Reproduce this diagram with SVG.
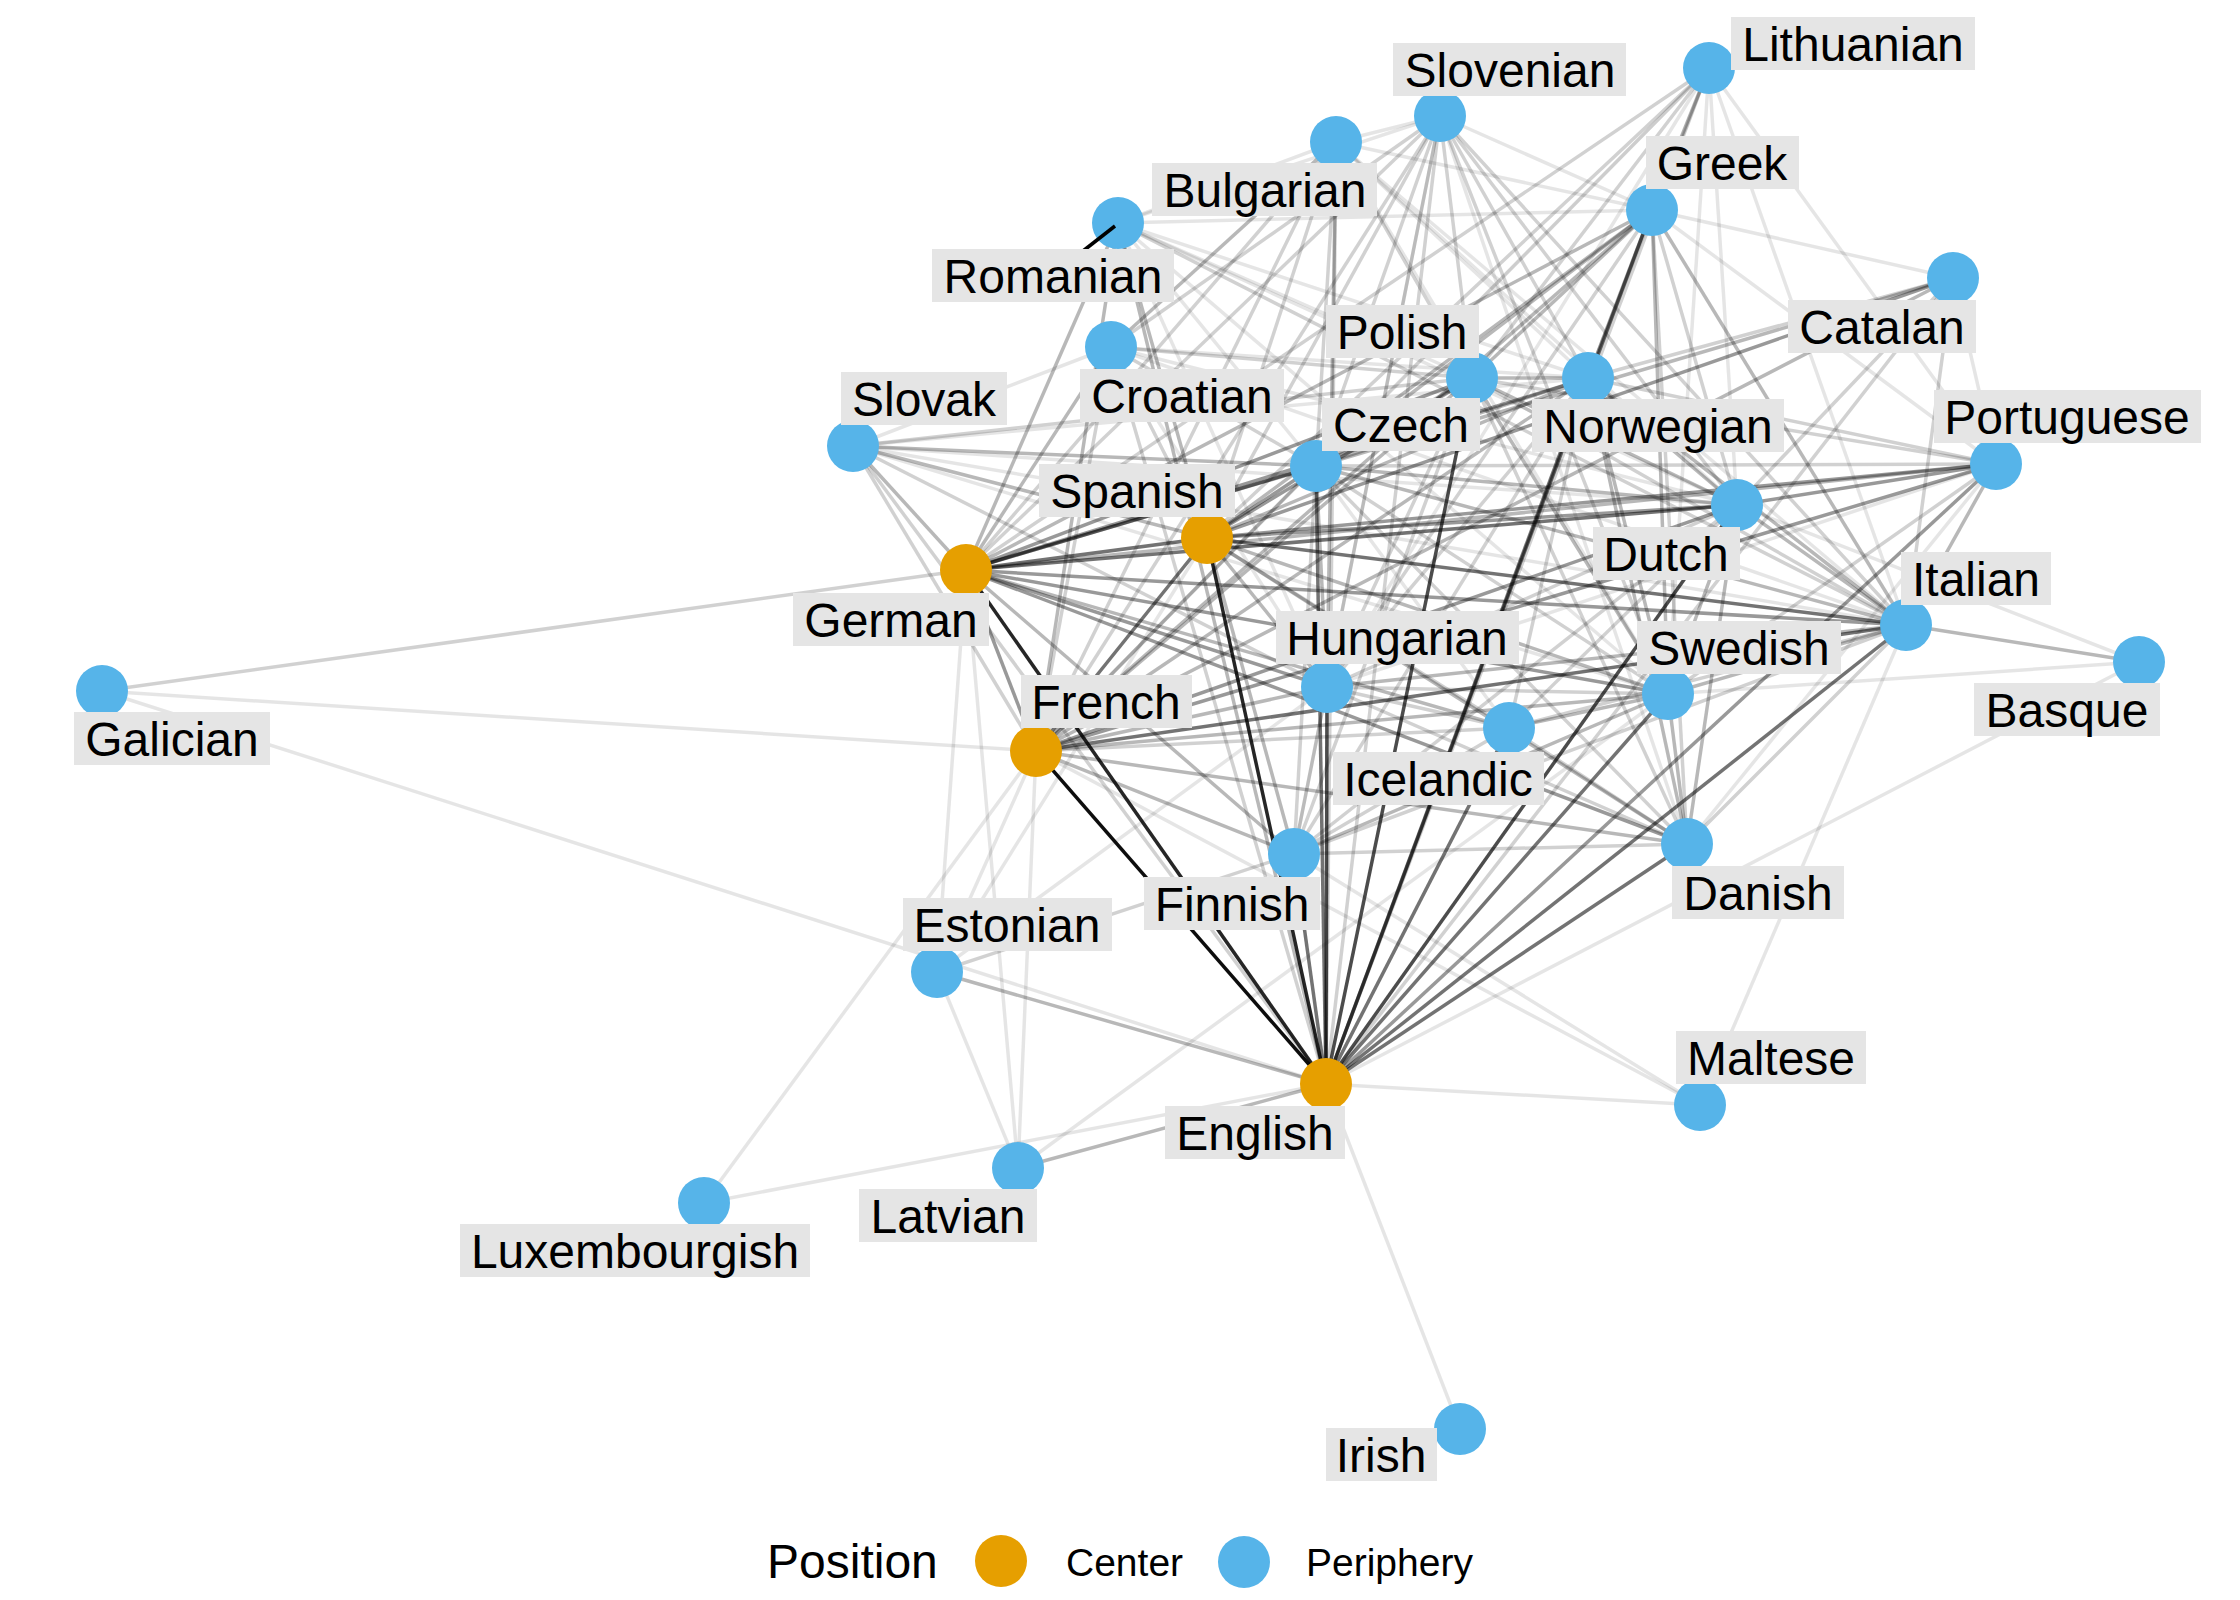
<svg xmlns="http://www.w3.org/2000/svg" width="2240" height="1600" viewBox="0 0 2240 1600">
<style>
#edges line{stroke:#000;stroke-width:3.5;fill:none}
.w1 line{stroke-opacity:.1}.w2 line{stroke-opacity:.18}.w3 line{stroke-opacity:.28}.w4 line{stroke-opacity:.4}
.w5 line{stroke-opacity:.55}.w6 line{stroke-opacity:.7}.w7 line{stroke-opacity:.85}.w8 line{stroke-opacity:.95}
.c{fill:#E69F00}.p{fill:#56B4E9}
.lb{fill:#E5E5E5}
.t{font-family:"Liberation Sans",Arial,Helvetica,sans-serif;font-size:48px;fill:#000;text-anchor:middle}
.lg{font-family:"Liberation Sans",Arial,Helvetica,sans-serif;fill:#000}
</style>
<rect width="2240" height="1600" fill="#fff"/>
<g id="edges">
<g class="w1">
<line x1="1326" y1="1084" x2="1700" y2="1105"/><line x1="1326" y1="1084" x2="1460" y2="1429"/><line x1="1326" y1="1084" x2="102" y2="691"/><line x1="1326" y1="1084" x2="704" y2="1203"/><line x1="1326" y1="1084" x2="2139" y2="662"/>
<line x1="966" y1="570" x2="937" y2="972"/><line x1="966" y1="570" x2="1018" y2="1168"/><line x1="1036" y1="751" x2="937" y2="972"/><line x1="1036" y1="751" x2="1018" y2="1168"/><line x1="1036" y1="751" x2="704" y2="1203"/><line x1="1036" y1="751" x2="102" y2="691"/><line x1="1036" y1="751" x2="1700" y2="1105"/><line x1="1036" y1="751" x2="1709" y2="68"/>
<line x1="1207" y1="538" x2="937" y2="972"/><line x1="853" y1="446" x2="1906" y2="625"/><line x1="853" y1="446" x2="1737" y2="505"/><line x1="853" y1="446" x2="1668" y2="694"/><line x1="853" y1="446" x2="1588" y2="378"/><line x1="853" y1="446" x2="1111" y2="347"/>
<line x1="1111" y1="347" x2="1906" y2="625"/><line x1="1111" y1="347" x2="1327" y2="687"/><line x1="1111" y1="347" x2="1588" y2="378"/><line x1="1111" y1="347" x2="1737" y2="505"/>
<line x1="1118" y1="223" x2="1336" y2="142"/><line x1="1118" y1="223" x2="1440" y2="116"/><line x1="1118" y1="223" x2="1472" y2="378"/><line x1="1118" y1="223" x2="1316" y2="466"/><line x1="1118" y1="223" x2="1327" y2="687"/><line x1="1118" y1="223" x2="1588" y2="378"/><line x1="1118" y1="223" x2="1737" y2="505"/><line x1="1118" y1="223" x2="1668" y2="694"/><line x1="1118" y1="223" x2="1652" y2="210"/>
<line x1="1336" y1="142" x2="1440" y2="116"/><line x1="1336" y1="142" x2="1652" y2="210"/><line x1="1336" y1="142" x2="1906" y2="625"/><line x1="1336" y1="142" x2="1588" y2="378"/><line x1="1336" y1="142" x2="1737" y2="505"/><line x1="1336" y1="142" x2="1668" y2="694"/>
<line x1="1440" y1="116" x2="1687" y2="844"/><line x1="1440" y1="116" x2="1652" y2="210"/><line x1="1440" y1="116" x2="1294" y2="854"/>
<line x1="1709" y1="68" x2="1316" y2="466"/><line x1="1709" y1="68" x2="1588" y2="378"/><line x1="1709" y1="68" x2="1906" y2="625"/><line x1="1709" y1="68" x2="1327" y2="687"/><line x1="1709" y1="68" x2="1737" y2="505"/><line x1="1709" y1="68" x2="1668" y2="694"/><line x1="1709" y1="68" x2="1996" y2="464"/>
<line x1="1652" y1="210" x2="1953" y2="278"/><line x1="1652" y1="210" x2="1996" y2="464"/><line x1="1316" y1="466" x2="1509" y2="728"/><line x1="1737" y1="505" x2="2139" y2="662"/><line x1="1668" y1="694" x2="1018" y2="1168"/><line x1="1668" y1="694" x2="2139" y2="662"/><line x1="1906" y1="625" x2="1700" y2="1105"/>
<line x1="1327" y1="687" x2="1996" y2="464"/><line x1="1327" y1="687" x2="937" y2="972"/><line x1="1294" y1="854" x2="1700" y2="1105"/><line x1="1687" y1="844" x2="1996" y2="464"/><line x1="937" y1="972" x2="1018" y2="1168"/><line x1="1953" y1="278" x2="1996" y2="464"/>
</g>
<g class="w2">
<line x1="1326" y1="1084" x2="1953" y2="278"/><line x1="1326" y1="1084" x2="853" y2="446"/><line x1="1326" y1="1084" x2="1111" y2="347"/><line x1="1326" y1="1084" x2="1336" y2="142"/><line x1="1326" y1="1084" x2="1440" y2="116"/><line x1="1326" y1="1084" x2="1709" y2="68"/>
<line x1="966" y1="570" x2="1336" y2="142"/><line x1="966" y1="570" x2="1440" y2="116"/><line x1="966" y1="570" x2="102" y2="691"/><line x1="966" y1="570" x2="1709" y2="68"/>
<line x1="1036" y1="751" x2="1509" y2="728"/><line x1="1036" y1="751" x2="1111" y2="347"/><line x1="1036" y1="751" x2="1336" y2="142"/><line x1="1036" y1="751" x2="853" y2="446"/><line x1="1036" y1="751" x2="1440" y2="116"/>
<line x1="1207" y1="538" x2="1336" y2="142"/><line x1="1207" y1="538" x2="1440" y2="116"/><line x1="1207" y1="538" x2="1111" y2="347"/><line x1="1207" y1="538" x2="1709" y2="68"/><line x1="1207" y1="538" x2="1509" y2="728"/>
<line x1="853" y1="446" x2="1472" y2="378"/><line x1="853" y1="446" x2="1327" y2="687"/><line x1="1111" y1="347" x2="1440" y2="116"/><line x1="1111" y1="347" x2="1472" y2="378"/><line x1="1111" y1="347" x2="1316" y2="466"/><line x1="1118" y1="223" x2="1906" y2="625"/>
<line x1="1336" y1="142" x2="1472" y2="378"/><line x1="1336" y1="142" x2="1316" y2="466"/>
<line x1="1440" y1="116" x2="1472" y2="378"/><line x1="1440" y1="116" x2="1316" y2="466"/><line x1="1440" y1="116" x2="1327" y2="687"/><line x1="1440" y1="116" x2="1588" y2="378"/><line x1="1440" y1="116" x2="1906" y2="625"/><line x1="1440" y1="116" x2="1737" y2="505"/><line x1="1440" y1="116" x2="1668" y2="694"/>
<line x1="1709" y1="68" x2="1472" y2="378"/><line x1="1652" y1="210" x2="1737" y2="505"/><line x1="1652" y1="210" x2="1687" y2="844"/><line x1="1652" y1="210" x2="1327" y2="687"/>
<line x1="1472" y1="378" x2="1327" y2="687"/><line x1="1472" y1="378" x2="1906" y2="625"/><line x1="1472" y1="378" x2="1687" y2="844"/><line x1="1472" y1="378" x2="1294" y2="854"/><line x1="1472" y1="378" x2="1996" y2="464"/>
<line x1="1316" y1="466" x2="1668" y2="694"/><line x1="1316" y1="466" x2="1687" y2="844"/><line x1="1316" y1="466" x2="1294" y2="854"/><line x1="1316" y1="466" x2="1996" y2="464"/>
<line x1="1588" y1="378" x2="1327" y2="687"/><line x1="1588" y1="378" x2="1509" y2="728"/><line x1="1588" y1="378" x2="1294" y2="854"/><line x1="1588" y1="378" x2="1996" y2="464"/><line x1="1588" y1="378" x2="1953" y2="278"/>
<line x1="1737" y1="505" x2="1327" y2="687"/><line x1="1737" y1="505" x2="1509" y2="728"/><line x1="1737" y1="505" x2="1294" y2="854"/><line x1="1737" y1="505" x2="1953" y2="278"/>
<line x1="1668" y1="694" x2="1327" y2="687"/><line x1="1668" y1="694" x2="1996" y2="464"/>
<line x1="1906" y1="625" x2="1687" y2="844"/><line x1="1906" y1="625" x2="1953" y2="278"/><line x1="1906" y1="625" x2="1509" y2="728"/><line x1="1906" y1="625" x2="1294" y2="854"/>
<line x1="1327" y1="687" x2="1509" y2="728"/><line x1="1327" y1="687" x2="1294" y2="854"/><line x1="1327" y1="687" x2="1687" y2="844"/><line x1="1509" y1="728" x2="1687" y2="844"/><line x1="1509" y1="728" x2="1294" y2="854"/><line x1="1294" y1="854" x2="1687" y2="844"/><line x1="1294" y1="854" x2="937" y2="972"/>
</g>
<g class="w3">
<line x1="1326" y1="1084" x2="937" y2="972"/><line x1="1326" y1="1084" x2="1018" y2="1168"/><line x1="1326" y1="1084" x2="1118" y2="223"/>
<line x1="966" y1="570" x2="853" y2="446"/><line x1="966" y1="570" x2="1111" y2="347"/><line x1="966" y1="570" x2="1118" y2="223"/><line x1="966" y1="570" x2="1996" y2="464"/><line x1="966" y1="570" x2="1652" y2="210"/><line x1="966" y1="570" x2="1953" y2="278"/><line x1="966" y1="570" x2="1509" y2="728"/><line x1="966" y1="570" x2="1294" y2="854"/>
<line x1="1036" y1="751" x2="1953" y2="278"/><line x1="1036" y1="751" x2="1118" y2="223"/><line x1="1036" y1="751" x2="1327" y2="687"/><line x1="1036" y1="751" x2="1316" y2="466"/><line x1="1036" y1="751" x2="1472" y2="378"/><line x1="1036" y1="751" x2="1668" y2="694"/><line x1="1036" y1="751" x2="1687" y2="844"/><line x1="1036" y1="751" x2="1588" y2="378"/><line x1="1036" y1="751" x2="1652" y2="210"/><line x1="1036" y1="751" x2="1294" y2="854"/>
<line x1="1207" y1="538" x2="1652" y2="210"/><line x1="1207" y1="538" x2="1668" y2="694"/><line x1="1207" y1="538" x2="1327" y2="687"/><line x1="1207" y1="538" x2="1588" y2="378"/><line x1="1207" y1="538" x2="1687" y2="844"/><line x1="1207" y1="538" x2="1294" y2="854"/><line x1="1207" y1="538" x2="1118" y2="223"/><line x1="1207" y1="538" x2="853" y2="446"/>
<line x1="853" y1="446" x2="1316" y2="466"/><line x1="1111" y1="347" x2="1336" y2="142"/><line x1="1336" y1="142" x2="1327" y2="687"/><line x1="1709" y1="68" x2="1652" y2="210"/>
<line x1="1652" y1="210" x2="1472" y2="378"/><line x1="1652" y1="210" x2="1316" y2="466"/><line x1="1652" y1="210" x2="1668" y2="694"/><line x1="1652" y1="210" x2="1906" y2="625"/>
<line x1="1472" y1="378" x2="1316" y2="466"/><line x1="1472" y1="378" x2="1588" y2="378"/><line x1="1472" y1="378" x2="1737" y2="505"/><line x1="1472" y1="378" x2="1668" y2="694"/>
<line x1="1316" y1="466" x2="1588" y2="378"/><line x1="1316" y1="466" x2="1327" y2="687"/><line x1="1316" y1="466" x2="1737" y2="505"/><line x1="1316" y1="466" x2="1906" y2="625"/>
<line x1="1588" y1="378" x2="1737" y2="505"/><line x1="1588" y1="378" x2="1668" y2="694"/><line x1="1588" y1="378" x2="1687" y2="844"/><line x1="1588" y1="378" x2="1906" y2="625"/>
<line x1="1737" y1="505" x2="1668" y2="694"/><line x1="1737" y1="505" x2="1687" y2="844"/><line x1="1737" y1="505" x2="1906" y2="625"/>
<line x1="1668" y1="694" x2="1687" y2="844"/><line x1="1668" y1="694" x2="1906" y2="625"/><line x1="1668" y1="694" x2="1509" y2="728"/><line x1="1668" y1="694" x2="1294" y2="854"/>
<line x1="1906" y1="625" x2="1327" y2="687"/><line x1="1906" y1="625" x2="1996" y2="464"/><line x1="1906" y1="625" x2="2139" y2="662"/>
</g>
<g class="w4">
<line x1="1326" y1="1084" x2="1996" y2="464"/><line x1="966" y1="570" x2="1036" y2="751"/><line x1="966" y1="570" x2="1472" y2="378"/><line x1="966" y1="570" x2="1327" y2="687"/><line x1="966" y1="570" x2="1588" y2="378"/><line x1="966" y1="570" x2="1668" y2="694"/><line x1="966" y1="570" x2="1687" y2="844"/><line x1="966" y1="570" x2="1906" y2="625"/>
<line x1="1036" y1="751" x2="1996" y2="464"/><line x1="1036" y1="751" x2="1737" y2="505"/>
<line x1="1207" y1="538" x2="1996" y2="464"/><line x1="1207" y1="538" x2="1953" y2="278"/><line x1="1207" y1="538" x2="1737" y2="505"/><line x1="1207" y1="538" x2="1472" y2="378"/><line x1="1207" y1="538" x2="1316" y2="466"/>
<line x1="1737" y1="505" x2="1996" y2="464"/><line x1="1652" y1="210" x2="1588" y2="378"/>
</g>
<g class="w5">
<line x1="1326" y1="1084" x2="1316" y2="466"/><line x1="1326" y1="1084" x2="1588" y2="378"/><line x1="1326" y1="1084" x2="1668" y2="694"/><line x1="1326" y1="1084" x2="1906" y2="625"/><line x1="1326" y1="1084" x2="1652" y2="210"/><line x1="1326" y1="1084" x2="1509" y2="728"/><line x1="1326" y1="1084" x2="1687" y2="844"/><line x1="1326" y1="1084" x2="1294" y2="854"/>
<line x1="966" y1="570" x2="1207" y2="538"/><line x1="1036" y1="751" x2="1207" y2="538"/><line x1="966" y1="570" x2="1316" y2="466"/><line x1="966" y1="570" x2="1737" y2="505"/><line x1="1036" y1="751" x2="1906" y2="625"/><line x1="1207" y1="538" x2="1906" y2="625"/>
</g>
<g class="w6">
<line x1="1326" y1="1084" x2="1327" y2="687"/><line x1="1326" y1="1084" x2="1472" y2="378"/><line x1="1326" y1="1084" x2="1737" y2="505"/>
</g>
<g class="w7">
<line x1="1326" y1="1084" x2="966" y2="570"/><line x1="1326" y1="1084" x2="1207" y2="538"/>
</g>
<g class="w8">
<line x1="1326" y1="1084" x2="1036" y2="751"/>
</g>
</g>
<g id="n-Lithuanian"><circle class="p" cx="1709" cy="68" r="26"/><rect class="lb" x="1731" y="17" width="244" height="53"/><text class="t" x="1853" y="61">Lithuanian</text></g>
<g id="n-Slovenian"><circle class="p" cx="1440" cy="116" r="26"/><rect class="lb" x="1393" y="43" width="233" height="53"/><text class="t" x="1510" y="87">Slovenian</text></g>
<g id="n-Bulgarian"><circle class="p" cx="1336" cy="142" r="26"/><rect class="lb" x="1152" y="163" width="225" height="53"/><text class="t" x="1265" y="207">Bulgarian</text></g>
<g id="n-Romanian"><circle class="p" cx="1118" cy="223" r="26"/><line x1="1115" y1="226" x2="1083" y2="251" stroke="#000" stroke-width="3.5"/><rect class="lb" x="932" y="249" width="242" height="53"/><text class="t" x="1053" y="293">Romanian</text></g>
<g id="n-Greek"><circle class="p" cx="1652" cy="210" r="26"/><rect class="lb" x="1646" y="136" width="153" height="53"/><text class="t" x="1722" y="180">Greek</text></g>
<g id="n-Catalan"><circle class="p" cx="1953" cy="278" r="26"/><rect class="lb" x="1788" y="300" width="188" height="53"/><text class="t" x="1882" y="344">Catalan</text></g>
<g id="n-Polish"><circle class="p" cx="1472" cy="378" r="26"/><rect class="lb" x="1326" y="305" width="153" height="53"/><text class="t" x="1402" y="349">Polish</text></g>
<g id="n-Norwegian"><circle class="p" cx="1588" cy="378" r="26"/><rect class="lb" x="1532" y="399" width="252" height="53"/><text class="t" x="1658" y="443">Norwegian</text></g>
<g id="n-Croatian"><circle class="p" cx="1111" cy="347" r="26"/><rect class="lb" x="1080" y="369" width="204" height="53"/><text class="t" x="1182" y="413">Croatian</text></g>
<g id="n-Czech"><circle class="p" cx="1316" cy="466" r="26"/><rect class="lb" x="1322" y="398" width="158" height="53"/><text class="t" x="1401" y="442">Czech</text></g>
<g id="n-Slovak"><circle class="p" cx="853" cy="446" r="26"/><rect class="lb" x="841" y="372" width="166" height="53"/><text class="t" x="924" y="416">Slovak</text></g>
<g id="n-Portuguese"><circle class="p" cx="1996" cy="464" r="26"/><rect class="lb" x="1934" y="390" width="267" height="53"/><text class="t" x="2067" y="434">Portuguese</text></g>
<g id="n-Spanish"><circle class="c" cx="1207" cy="538" r="26"/><rect class="lb" x="1039" y="464" width="196" height="53"/><text class="t" x="1137" y="508">Spanish</text></g>
<g id="n-Dutch"><circle class="p" cx="1737" cy="505" r="26"/><rect class="lb" x="1593" y="527" width="147" height="53"/><text class="t" x="1666" y="571">Dutch</text></g>
<g id="n-German"><circle class="c" cx="966" cy="570" r="26"/><rect class="lb" x="793" y="593" width="196" height="53"/><text class="t" x="891" y="637">German</text></g>
<g id="n-Italian"><circle class="p" cx="1906" cy="625" r="26"/><rect class="lb" x="1901" y="552" width="150" height="53"/><text class="t" x="1976" y="596">Italian</text></g>
<g id="n-Hungarian"><circle class="p" cx="1327" cy="687" r="26"/><rect class="lb" x="1276" y="611" width="243" height="53"/><text class="t" x="1397" y="655">Hungarian</text></g>
<g id="n-Swedish"><circle class="p" cx="1668" cy="694" r="26"/><rect class="lb" x="1637" y="621" width="204" height="53"/><text class="t" x="1739" y="665">Swedish</text></g>
<g id="n-Basque"><circle class="p" cx="2139" cy="662" r="26"/><rect class="lb" x="1974" y="683" width="186" height="53"/><text class="t" x="2067" y="727">Basque</text></g>
<g id="n-Galician"><circle class="p" cx="102" cy="691" r="26"/><rect class="lb" x="74" y="712" width="196" height="53"/><text class="t" x="172" y="756">Galician</text></g>
<g id="n-French"><circle class="c" cx="1036" cy="751" r="26"/><rect class="lb" x="1021" y="675" width="171" height="53"/><text class="t" x="1106" y="719">French</text></g>
<g id="n-Icelandic"><circle class="p" cx="1509" cy="728" r="26"/><rect class="lb" x="1333" y="752" width="211" height="53"/><text class="t" x="1438" y="796">Icelandic</text></g>
<g id="n-Finnish"><circle class="p" cx="1294" cy="854" r="26"/><rect class="lb" x="1144" y="877" width="176" height="53"/><text class="t" x="1232" y="921">Finnish</text></g>
<g id="n-Danish"><circle class="p" cx="1687" cy="844" r="26"/><rect class="lb" x="1672" y="866" width="172" height="53"/><text class="t" x="1758" y="910">Danish</text></g>
<g id="n-Estonian"><circle class="p" cx="937" cy="972" r="26"/><rect class="lb" x="903" y="898" width="209" height="53"/><text class="t" x="1007" y="942">Estonian</text></g>
<g id="n-English"><circle class="c" cx="1326" cy="1084" r="26"/><rect class="lb" x="1165" y="1106" width="180" height="53"/><text class="t" x="1255" y="1150">English</text></g>
<g id="n-Maltese"><circle class="p" cx="1700" cy="1105" r="26"/><rect class="lb" x="1676" y="1031" width="190" height="53"/><text class="t" x="1771" y="1075">Maltese</text></g>
<g id="n-Latvian"><circle class="p" cx="1018" cy="1168" r="26"/><rect class="lb" x="859" y="1189" width="178" height="53"/><text class="t" x="948" y="1233">Latvian</text></g>
<g id="n-Luxembourgish"><circle class="p" cx="704" cy="1203" r="26"/><rect class="lb" x="460" y="1224" width="350" height="53"/><text class="t" x="635" y="1268">Luxembourgish</text></g>
<g id="n-Irish"><circle class="p" cx="1460" cy="1429" r="26"/><rect class="lb" x="1326" y="1428" width="111" height="53"/><text class="t" x="1381" y="1472">Irish</text></g>
<g id="legend">
<text class="lg" x="767" y="1578" font-size="48">Position</text>
<circle class="c" cx="1001" cy="1561" r="26"/>
<text class="lg" x="1066" y="1576" font-size="39">Center</text>
<circle class="p" cx="1244" cy="1562" r="26"/>
<text class="lg" x="1306" y="1576" font-size="39">Periphery</text>
</g>
</svg>
